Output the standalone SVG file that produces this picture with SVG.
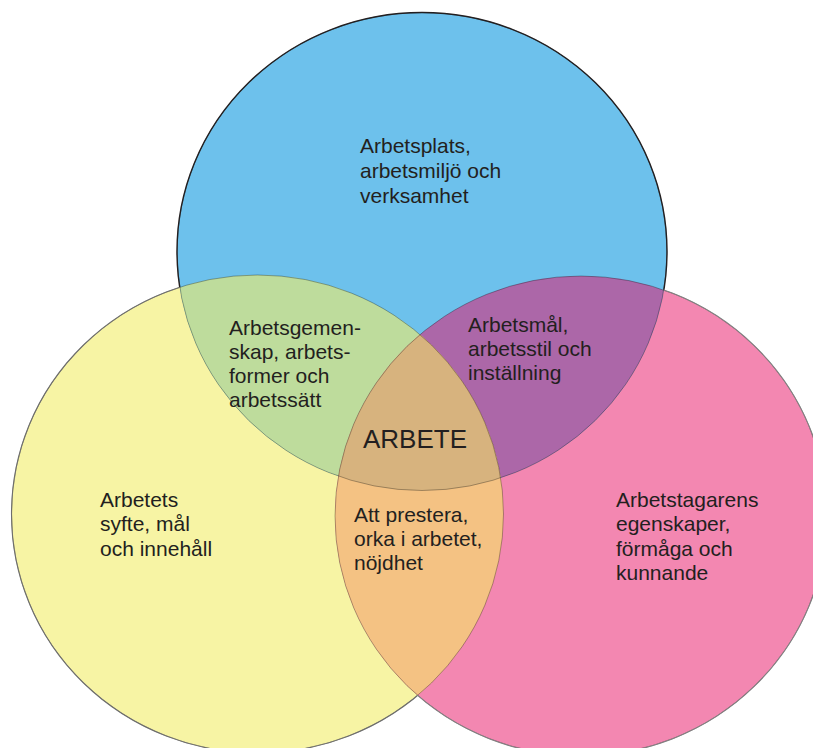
<svg xmlns="http://www.w3.org/2000/svg" xmlns:xlink="http://www.w3.org/1999/xlink" width="813" height="748" viewBox="0 0 813 748">
<style>
text{font-family:"Liberation Sans",Arial,sans-serif;font-size:21px;fill:#231F20}
.big{font-size:26px}
.inner{fill:none;stroke:#000;stroke-opacity:0.3;stroke-width:1}
</style>
<defs>
<ellipse id="eB" cx="422" cy="251.5" rx="245" ry="239"/>
<ellipse id="eY" cx="257.5" cy="514" rx="246" ry="239"/>
<ellipse id="eP" cx="581" cy="516" rx="246" ry="240"/>
<clipPath id="cB"><use xlink:href="#eB"/></clipPath>
<clipPath id="cY"><use xlink:href="#eY"/></clipPath>
<clipPath id="cP"><use xlink:href="#eP"/></clipPath>
<mask id="mB" maskUnits="userSpaceOnUse" x="0" y="0" width="813" height="748"><rect width="813" height="748" fill="#fff"/><use xlink:href="#eY" fill="#000"/><use xlink:href="#eP" fill="#000"/></mask>
<mask id="mY" maskUnits="userSpaceOnUse" x="0" y="0" width="813" height="748"><rect width="813" height="748" fill="#fff"/><use xlink:href="#eB" fill="#000"/><use xlink:href="#eP" fill="#000"/></mask>
<mask id="mP" maskUnits="userSpaceOnUse" x="0" y="0" width="813" height="748"><rect width="813" height="748" fill="#fff"/><use xlink:href="#eB" fill="#000"/><use xlink:href="#eY" fill="#000"/></mask>
</defs>
<rect width="813" height="748" fill="#fff"/>
<g id="circle-yellow">
<use xlink:href="#eY" fill="#F7F4A4"/>
</g>
<g id="circle-pink">
<use xlink:href="#eP" fill="#F387B1"/>
</g>
<g id="circle-blue">
<use xlink:href="#eB" fill="#6DC1EC"/>
</g>
<g id="overlap-blue-yellow">
<use xlink:href="#eY" fill="#BEDC9C" clip-path="url(#cB)"/>
</g>
<g id="overlap-blue-pink">
<use xlink:href="#eP" fill="#AC67A8" clip-path="url(#cB)"/>
</g>
<g id="overlap-yellow-pink">
<use xlink:href="#eY" fill="#F4C283" clip-path="url(#cP)"/>
</g>
<g id="overlap-center" clip-path="url(#cB)">
<use xlink:href="#eY" fill="#D7B37E" clip-path="url(#cP)"/>
</g>
<g id="outlines">
<use xlink:href="#eY" class="inner"/>
<use xlink:href="#eP" class="inner"/>
<use xlink:href="#eB" class="inner"/>
<use xlink:href="#eB" fill="none" stroke="#231F20" stroke-width="1.4" mask="url(#mB)"/>
<use xlink:href="#eY" fill="none" stroke="#6d6d6d" stroke-width="1.1" mask="url(#mY)"/>
<use xlink:href="#eP" fill="none" stroke="#808080" stroke-width="1.1" mask="url(#mP)"/>
</g>
<g id="connectors"/>
<g id="labels">
<text x="360" y="153">Arbetsplats,<tspan x="360" y="178">arbetsmiljö och</tspan><tspan x="360" y="203">verksamhet</tspan></text>
<text x="229" y="335">Arbetsgemen-<tspan x="229" y="359">skap, arbets-</tspan><tspan x="229" y="383">former och</tspan><tspan x="229" y="407">arbetssätt</tspan></text>
<text x="468" y="332">Arbetsmål,<tspan x="468" y="356">arbetsstil och</tspan><tspan x="468" y="380">inställning</tspan></text>
<text class="big" x="363" y="448">ARBETE</text>
<text x="354" y="522">Att prestera,<tspan x="354" y="546">orka i arbetet,</tspan><tspan x="354" y="570">nöjdhet</tspan></text>
<text x="100" y="507">Arbetets<tspan x="100" y="531">syfte, mål</tspan><tspan x="100" y="556">och innehåll</tspan></text>
<text x="616" y="507">Arbetstagarens<tspan x="616" y="531">egenskaper,</tspan><tspan x="616" y="556">förmåga och</tspan><tspan x="616" y="580">kunnande</tspan></text>
</g>
</svg>
